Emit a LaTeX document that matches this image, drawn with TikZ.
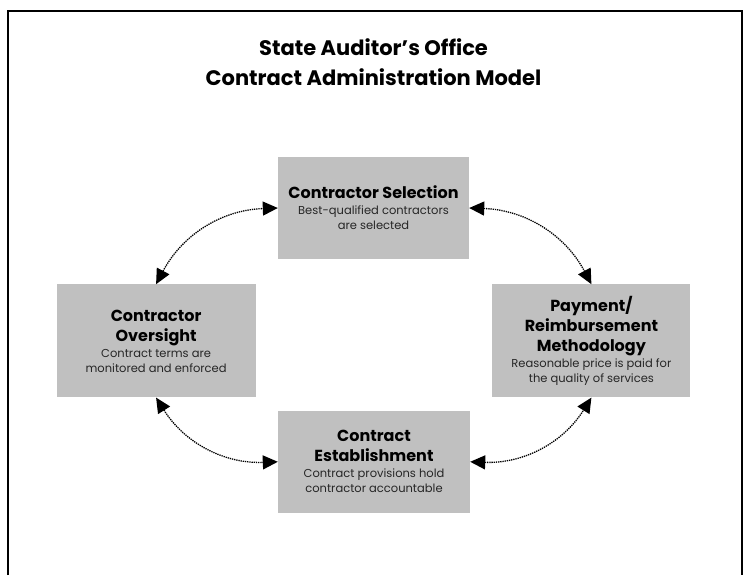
\documentclass[tikz,border=0pt]{standalone}
\usepackage{fontspec}
\setmainfont{Poppins}
\usepackage{xcolor}
\usetikzlibrary{arrows.meta,positioning}
\definecolor{boxgray}{HTML}{C0C0C0}
\tikzset{
  stage/.style={fill=boxgray, align=center, inner sep=0pt,
                font=\fontsize{16}{20}\selectfont},
  frame/.style={line width=1.6pt}
}
\newcommand{\hd}[1]{\bfseries #1}
\newcommand{\sub}[1]{\fontsize{11.5}{14}\selectfont\color{black!85}#1}

\begin{document}
\begin{tikzpicture}[x=1pt,y=-1pt]
          \useasboundingbox (0,0) rectangle (746,575);
          \draw[frame] (8,575) -- (8,11) -- (742,11) -- (742,575);

          \node[align=center, font=\fontsize{21}{30}\selectfont\bfseries] (title) at (373.5,62)
                {State Auditor’s Office\\Contract Administration Model};

          \begin{scope}[every node/.style={stage}]
              \node[minimum width=191pt, minimum height=102pt] (sel) at (373.5,208)
                    {\hd{Contractor Selection}\\[-4pt]
                     \sub{Best-qualified contractors}\\[-5pt]\sub{are selected}};
              \node[minimum width=199pt, minimum height=113pt] (ovs)
                    [below left=25pt and 22pt of sel]
                    {\hd{Contractor}\\\hd{Oversight}\\[-4pt]
                     \sub{Contract terms are}\\[-5pt]\sub{monitored and enforced}};
              \node[minimum width=198pt, minimum height=113pt] (pay)
                    [below right=25pt and 23pt of sel]
                    {\hd{Payment/}\\\hd{Reimbursement}\\\hd{Methodology}\\[-4pt]
                     \sub{Reasonable price is paid for}\\[-5pt]\sub{the quality of services}};
              \node[minimum width=192pt, minimum height=102pt] (est)
                    [below right=13pt and 22pt of ovs]
                    {\hd{Contract}\\\hd{Establishment}\\[-4pt]
                     \sub{Contract provisions hold}\\[-5pt]\sub{contractor accountable}};
          \end{scope}

          \begin{scope}[>={Triangle[length=15pt,width=14pt]},
                        every edge/.style={draw=black,line width=1.3pt,
                                           dash pattern=on 1.3pt off 0.9pt}]
              \path [<->] (ovs.north) edge[bend left=30] (sel.west);
              \path [<->] (sel.east) edge[bend left=30] (pay.north);
              \path [<->] (ovs.south) edge[bend right=30] (est.west);
              \path [<->] (est.east) edge[bend right=30] (pay.south);
          \end{scope}
\end{tikzpicture}
\end{document}
